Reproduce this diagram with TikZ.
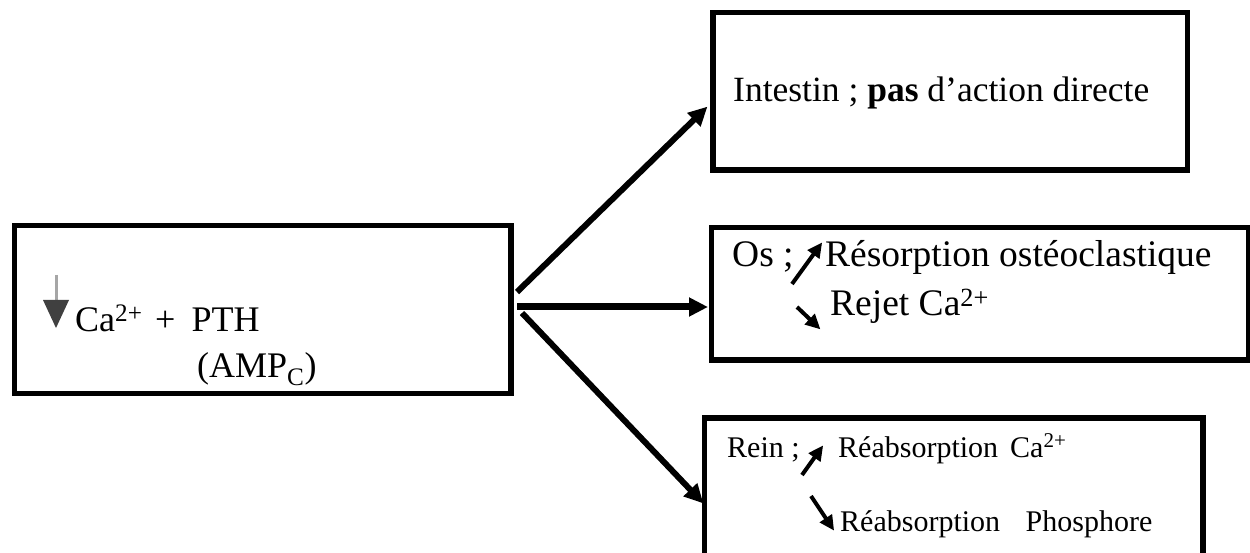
\documentclass[tikz,border=0pt]{standalone}
\usepackage{fontspec}
\setmainfont{Liberation Serif}
\usetikzlibrary{arrows.meta}
\begin{document}
\begin{tikzpicture}[x=1pt,y=-1pt,
  box/.style={draw=black,line width=5.5pt,inner sep=0pt},
  conn/.style={line width=6pt,-{Triangle[length=19pt,width=18pt]},shorten >=-2pt},
  smallarr/.style={line width=4pt,-{Triangle[length=15pt,width=14pt]},shorten >=-2pt},
  txt/.style={inner sep=0pt,anchor=base west},
  big/.style={font=\fontsize{36}{40}\selectfont},
  mid/.style={font=\fontsize{37.5}{41}\selectfont},
  small/.style={font=\fontsize{30}{34}\selectfont}]
\clip (0,0) rectangle (1250,553);
\fill[white] (0,0) rectangle (1250,553);
% boxes
\draw[box] (14.5,225.5) rectangle (511,393.5);
\node[inner sep=0pt,minimum width=496.5pt,minimum height=168pt] (src) at (262.75,309.5) {};
\draw[box] (713,12.5) rectangle (1187.5,170);
\node[inner sep=0pt,minimum width=474.5pt,minimum height=157.5pt] (intestin) at (950.25,91.25) {};
\draw[box] (711.5,227.5) rectangle (1249,360);
\node[inner sep=0pt,minimum width=537.5pt,minimum height=132.5pt] (os) at (980.25,293.75) {};
\draw[box] (704.5,600) -- (704.5,418) -- (1203,418) -- (1203,600);
\node[inner sep=0pt,minimum width=498.5pt,minimum height=140pt] (rein) at (953.75,488) {};
% connector ends
\coordinate (s1) at (517,292);
\coordinate (s2) at (517,307);
\coordinate (s3) at (522,313);
\coordinate (t1) at (706,108);
\coordinate (t2) at (706,307);
\coordinate (t3) at (702,502);
\draw[conn] (s1) -- (t1);
\draw[conn,line width=7pt] (s2) -- (t2);
\draw[conn] (s3) -- (t3);
% left box contents
\draw[line width=3pt,gray!70] (56,275) -- (56,302);
\fill[black!75] (43,300) -- (69,300) -- (56,328) -- cycle;
\node[txt,big] (ca) at (75,331) {Ca\textsuperscript{2+}\hspace{0.35em}+\hspace{0.45em}PTH};
\node[txt,big] (amp) at (197,377) {(AMP\textsubscript{C})};
% intestin
\node[txt,font=\fontsize{35.5}{40}\selectfont] (ti) at (733,102) {Intestin ; \textbf{pas} d’action directe};
% os
\node[txt,mid] (tos) at (732,267) {Os ;};
\node[txt,mid] (tres) at (825,267) {Résorption ostéoclastique};
\node[txt,mid] (trej) at (830,316) {Rejet Ca\textsuperscript{2+}};
\coordinate (oa1) at (792,284);
\coordinate (oa2) at (821,244);
\coordinate (ob1) at (797,307);
\coordinate (ob2) at (819,328);
\draw[smallarr] (oa1) -- (oa2);
\draw[smallarr] (ob1) -- (ob2);
% rein
\node[txt,small] (trein) at (727,457) {Rein ;};
\node[txt,small] (treab) at (838,457) {Réabsorption\hspace{0.15em} Ca\textsuperscript{2+}};
\node[txt,small] (tphos) at (840,531) {Réabsorption\hspace{0.6em} Phosphore};
\coordinate (ra1) at (802,475);
\coordinate (ra2) at (822,447);
\coordinate (rb1) at (811,496);
\coordinate (rb2) at (833,529);
\draw[smallarr] (ra1) -- (ra2);
\draw[smallarr] (rb1) -- (rb2);
\end{tikzpicture}
\end{document}
